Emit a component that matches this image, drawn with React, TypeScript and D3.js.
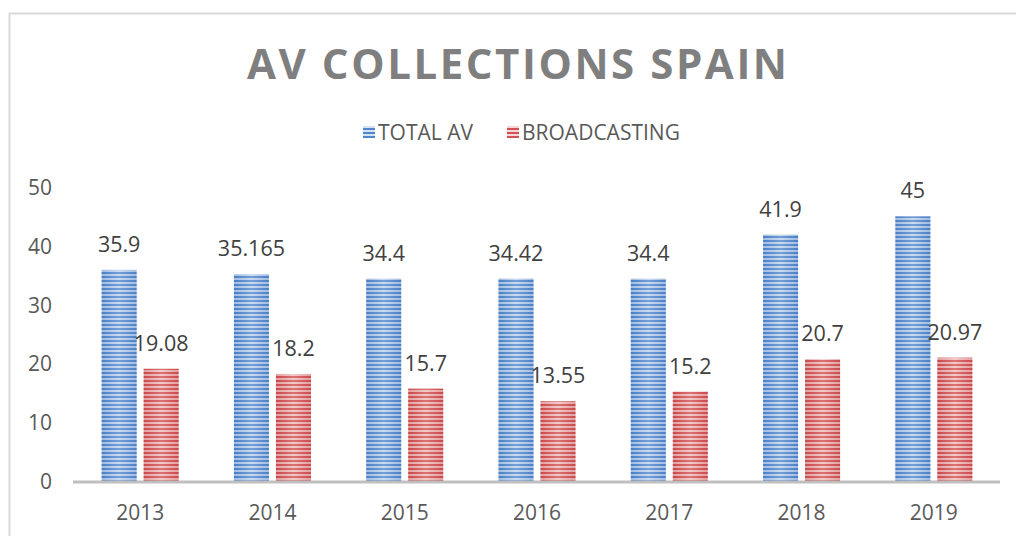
import React from 'react';
import * as d3 from 'd3';

const years = ['2013', '2014', '2015', '2016', '2017', '2018', '2019'];
const totalAv = [35.9, 35.165, 34.4, 34.42, 34.4, 41.9, 45];
const broadcasting = [19.08, 18.2, 15.7, 13.55, 15.2, 20.7, 20.97];
const yTicks = [0, 10, 20, 30, 40, 50];

const width = 1016;
const height = 536;
const font = "'Open Sans', 'Liberation Sans', sans-serif";

const App = () => {
  const x = d3.scaleBand<string>().domain(years).range([74, 1000]);
  const y = d3.scaleLinear().domain([0, 50]).range([481, 187]);
  const barW = 35;
  const gap = 7;
  const groupW = barW * 2 + gap;

  const series = [
    { name: 'TOTAL AV', values: totalAv, fill: 'url(#blueStripe)', grad: 'url(#blueGrad)', off: 0 },
    { name: 'BROADCASTING', values: broadcasting, fill: 'url(#redStripe)', grad: 'url(#redGrad)', off: barW + gap },
  ];

  return (
    <svg width={width} height={height} style={{ position: 'absolute', left: 0, top: 0 }}>
      <defs>
        <linearGradient id="blueGrad" x1="0" x2="1" y1="0" y2="0">
          <stop offset="0" stopColor="#3f73bb" />
          <stop offset="0.5" stopColor="#b7cdea" />
          <stop offset="1" stopColor="#3f73bb" />
        </linearGradient>
        <linearGradient id="redGrad" x1="0" x2="1" y1="0" y2="0">
          <stop offset="0" stopColor="#c0393b" />
          <stop offset="0.5" stopColor="#efb3b3" />
          <stop offset="1" stopColor="#c0393b" />
        </linearGradient>
        <pattern id="blueStripe" width="8" height="4" patternUnits="userSpaceOnUse">
          <rect width="8" height="4" fill="#d5e2f4" />
          <rect width="8" height="2" fill="#4f86cc" />
        </pattern>
        <pattern id="redStripe" width="8" height="4" patternUnits="userSpaceOnUse">
          <rect width="8" height="4" fill="#f5d5d5" />
          <rect width="8" height="2" fill="#cf5153" />
        </pattern>
      </defs>
      <rect x={0} y={0} width={width} height={height} fill="#fff" />
      <path d={`M9.5,${height} V13.5 H${width}`} fill="none" stroke="#d9d9d9" strokeWidth={2} />

      <text
        x={247}
        y={79}
        textLength={540}
        lengthAdjust="spacing"
        fontFamily={font}
        fontWeight="bold"
        fontSize={42}
        fill="#7f7f7f"
      >
        AV COLLECTIONS SPAIN
      </text>

      {/* legend */}
      <g fontFamily={font} fontSize={21} fill="#595959">
        <rect x={363} y={126} width={12} height={12} fill="url(#blueStripe)" />
        <text x={378} y={140}>TOTAL AV</text>
        <rect x={507} y={126} width={12} height={12} fill="url(#redStripe)" />
        <text x={522} y={140}>BROADCASTING</text>
      </g>

      {/* y ticks */}
      {yTicks.map((t) => (
        <text key={t} x={52} y={y(t) + 8} textAnchor="end" fontFamily={font} fontSize={21} fill="#595959">
          {t}
        </text>
      ))}

      {/* bars */}
      {series.map((s) =>
        years.map((yr, i) => {
          const bx = (x(yr) as number) + (x.bandwidth() - groupW) / 2 + s.off;
          const v = s.values[i];
          return (
            <g key={s.name + yr}>
              <rect x={bx} y={y(v)} width={barW} height={y(0) - y(v)} fill={s.fill} />
              <rect x={bx} y={y(v)} width={barW} height={y(0) - y(v)} fill={s.grad} opacity={0.35} />
              <text
                x={bx + barW / 2}
                y={y(v) - 18}
                textAnchor="middle"
                fontFamily={font}
                fontSize={21.5}
                fill="#404040"
              >
                {String(v)}
              </text>
            </g>
          );
        })
      )}

      <line x1={73} x2={1000} y1={482} y2={482} stroke="#bfbfbf" strokeWidth={3} />

      {years.map((yr) => (
        <text
          key={yr}
          x={(x(yr) as number) + x.bandwidth() / 2}
          y={520}
          textAnchor="middle"
          fontFamily={font}
          fontSize={21}
          fill="#595959"
        >
          {yr}
        </text>
      ))}
    </svg>
  );
};

export default App;
